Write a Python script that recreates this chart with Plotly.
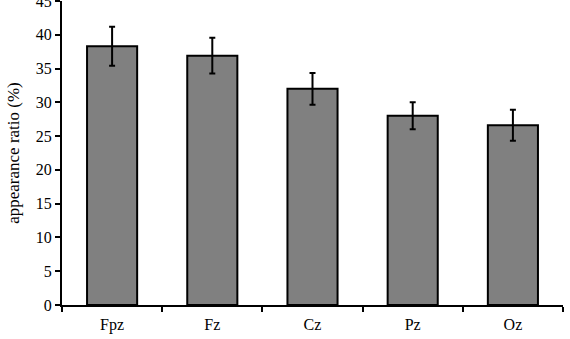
import plotly.graph_objects as go

categories = ["Fpz", "Fz", "Cz", "Pz", "Oz"]
values = [38.3, 36.9, 32.0, 28.0, 26.6]
errors = [2.9, 2.65, 2.35, 2.0, 2.3]
y_ticks = [0, 5, 10, 15, 20, 25, 30, 35, 40, 45]

fig = go.Figure(go.Bar(
    x=categories, y=values,
    marker=dict(color="#808080", line=dict(color="black", width=2)),
    error_y=dict(type="data", array=errors, color="black", thickness=2, width=3),
))

fam = "Liberation Serif, Times New Roman, serif"
font = dict(family=fam, size=16, color="black")
fig.update_layout(
    width=570, height=339,
    margin=dict(l=62, r=7, t=1, b=34, autoexpand=False),
    plot_bgcolor="white", paper_bgcolor="white",
    bargap=0.5, showlegend=False,
    font=font,
)
fig.update_xaxes(
    showline=True, linecolor="black", linewidth=2,
    ticks="outside", tickson="boundaries", ticklen=5, tickwidth=2, tickcolor="black",
    showgrid=False, tickfont=font, ticklabelstandoff=4, automargin=False,
)
fig.update_yaxes(
    range=[0, 45], tickvals=y_ticks, showline=True, linecolor="black", linewidth=2,
    ticks="outside", ticklen=5, tickwidth=2, tickcolor="black",
    showgrid=False, zeroline=False, tickfont=font, ticklabeloverflow="allow",
    automargin=False,
    title=dict(text="appearance ratio (%)", font=dict(family=fam, size=17, color="black"), standoff=12),
)
fig.write_html("out.html")
